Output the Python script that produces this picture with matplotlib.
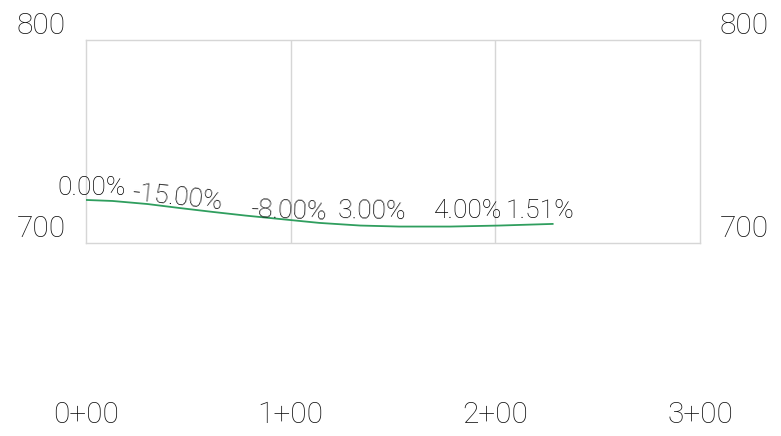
import matplotlib
matplotlib.use("Agg")
import matplotlib.pyplot as plt

# Profile data (station in ft, elevation)
stations = [0, 13, 30, 46, 62, 78, 95, 114, 134, 153, 178, 202, 228]
elevations = [721.2, 720.7, 719.2, 717.2, 715.3, 713.5, 711.8, 709.9, 708.6, 708.1, 708.1, 708.6, 709.4]

# Grade labels
grade_labels = ["0.00%", "-15.00%", "-8.00%", "3.00%", "4.00%", "1.51%"]
grade_sta = [-14, 22, 80, 123, 170, 205]
grade_elev = [723.6, 721.3, 712.8, 712.3, 712.3, 712.3]
grade_rot = [0, -6, -2, -1, 0, 0]

y_ticks = [700, 800]
x_ticks = [0, 100, 200, 300]
x_tick_labels = ["0+00", "1+00", "2+00", "3+00"]

plt.rcParams['font.family'] = ['Roboto', 'DejaVu Sans']

fig = plt.figure(figsize=(7.81, 4.36), dpi=100)
ax = fig.add_axes([86/781, 1-243/436, (700-86)/781, (243-40)/436])
ax.set_xlim(0, 300)
ax.set_ylim(700, 800)
for s in ax.spines.values():
    s.set_color("#d6d6d6")
    s.set_linewidth(1.0)
ax.set_xticks([])
ax.set_yticks([])
for xv in x_ticks[1:-1]:
    ax.axvline(xv, color="#d6d6d6", lw=1.0, zorder=0)

ax.plot(stations, elevations, color="#2f9e5e", lw=1.3, zorder=3)

txtcol = "#000000"
for lab, s, e, r in zip(grade_labels, grade_sta, grade_elev, grade_rot):
    ax.text(s, e, lab, fontsize=19, color=txtcol, ha="left", va="baseline",
            rotation=r, rotation_mode="anchor", fontweight="light",
            clip_on=False, zorder=4)

for yv in y_ticks:
    ax.annotate(str(yv), xy=(0, yv), xycoords=("axes fraction", "data"),
                xytext=(-45/1.389, 6/1.389), textcoords="offset points",
                ha="center", va="baseline", fontsize=21.5, color="#111111",
                fontweight="light", annotation_clip=False)
    ax.annotate(str(yv), xy=(1, yv), xycoords=("axes fraction", "data"),
                xytext=(44/1.389, 6/1.389), textcoords="offset points",
                ha="center", va="baseline", fontsize=21.5, color="#111111",
                fontweight="light", annotation_clip=False)

for xv, lab in zip(x_ticks, x_tick_labels):
    ax.annotate(lab, xy=(xv, 1-415/436), xycoords=("data", "figure fraction"),
                ha="center", va="center", fontsize=21.5, color="#111111",
                fontweight="light", annotation_clip=False)

fig.savefig("out.png", dpi=100)
